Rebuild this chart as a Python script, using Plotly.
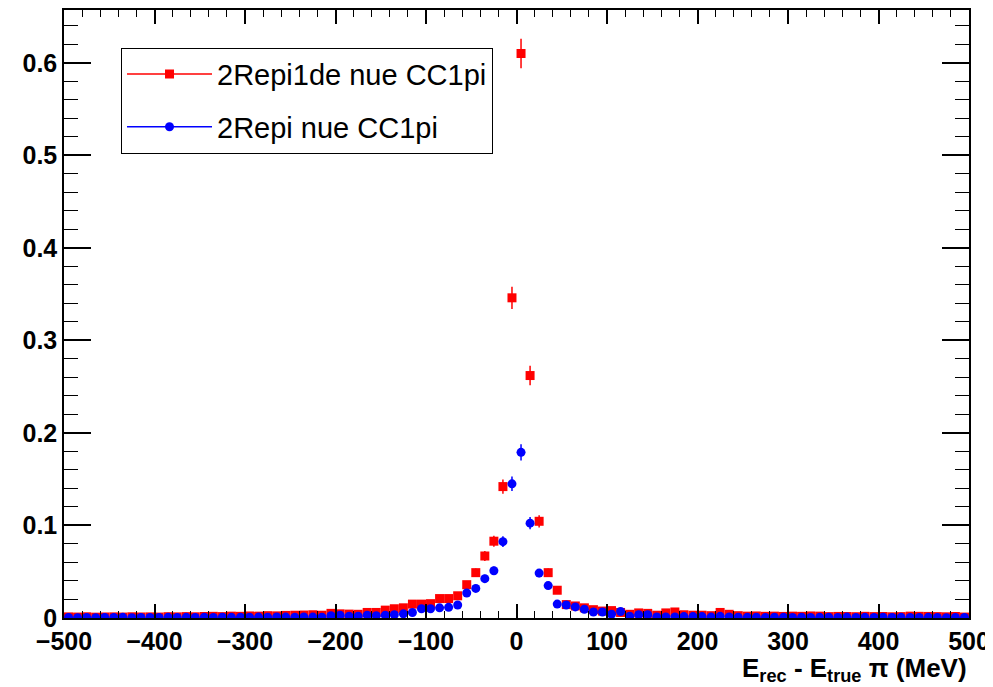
import numpy as np
import plotly.graph_objects as go

# histogram binning: 100 bins of 10 MeV from -500 to 500
bin_edges = np.arange(-500, 510, 10)
bin_centers = (bin_edges[:-1] + bin_edges[1:]) / 2

# 2Repi1de nue CC1pi (red squares)
red_vals = [
    0.0012, 0.0010, 0.0013, 0.0009, 0.0011, 0.0012, 0.0010, 0.0013, 0.0011, 0.0012,
    0.0010, 0.0014, 0.0012, 0.0015, 0.0013, 0.0016, 0.0018, 0.0015, 0.0020, 0.0018,
    0.0022, 0.0020, 0.0025, 0.0023, 0.0028, 0.0030, 0.0032, 0.0035, 0.0030, 0.0050,
    0.0045, 0.0042, 0.0040, 0.0060, 0.0060, 0.0085, 0.0100, 0.0110, 0.0150, 0.0150,
    0.0155, 0.0210, 0.0210, 0.0240, 0.0360, 0.0490, 0.0670, 0.0830, 0.1420, 0.3460,
    0.6100, 0.2620, 0.1045, 0.0490, 0.0300, 0.0145, 0.0130, 0.0110, 0.0090, 0.0075,
    0.0080, 0.0060, 0.0040, 0.0055, 0.0050, 0.0030, 0.0055, 0.0065, 0.0035, 0.0030,
    0.0030, 0.0025, 0.0060, 0.0040, 0.0025, 0.0020, 0.0022, 0.0018, 0.0020, 0.0017,
    0.0020, 0.0018, 0.0022, 0.0020, 0.0015, 0.0017, 0.0016, 0.0014, 0.0018, 0.0015,
    0.0016, 0.0013, 0.0015, 0.0020, 0.0018, 0.0017, 0.0015, 0.0013, 0.0016, 0.0010,
]
red_errs = [
    0.0007, 0.0007, 0.0007, 0.0006, 0.0007, 0.0007, 0.0007, 0.0007, 0.0007, 0.0007,
    0.0007, 0.0008, 0.0007, 0.0008, 0.0007, 0.0008, 0.0009, 0.0008, 0.0009, 0.0009,
    0.0010, 0.0009, 0.0010, 0.0010, 0.0011, 0.0011, 0.0012, 0.0012, 0.0011, 0.0015,
    0.0014, 0.0013, 0.0013, 0.0016, 0.0016, 0.0019, 0.0020, 0.0021, 0.0025, 0.0025,
    0.0026, 0.0030, 0.0030, 0.0032, 0.0039, 0.0045, 0.0053, 0.0059, 0.0077, 0.0120,
    0.0160, 0.0105, 0.0066, 0.0045, 0.0036, 0.0025, 0.0023, 0.0021, 0.0019, 0.0018,
    0.0018, 0.0016, 0.0013, 0.0015, 0.0014, 0.0011, 0.0015, 0.0016, 0.0012, 0.0011,
    0.0011, 0.0010, 0.0016, 0.0013, 0.0010, 0.0009, 0.0010, 0.0009, 0.0009, 0.0008,
    0.0009, 0.0009, 0.0010, 0.0009, 0.0008, 0.0008, 0.0008, 0.0008, 0.0009, 0.0008,
    0.0008, 0.0007, 0.0008, 0.0009, 0.0009, 0.0008, 0.0008, 0.0007, 0.0008, 0.0006,
]

# 2Repi nue CC1pi (blue circles)
blue_vals = [
    0.0005, 0.0004, 0.0006, 0.0003, 0.0006, 0.0005, 0.0007, 0.0004, 0.0006, 0.0005,
    0.0006, 0.0007, 0.0005, 0.0007, 0.0006, 0.0008, 0.0006, 0.0009, 0.0007, 0.0008,
    0.0009, 0.0010, 0.0008, 0.0011, 0.0010, 0.0009, 0.0012, 0.0010, 0.0008, 0.0025,
    0.0030, 0.0020, 0.0020, 0.0030, 0.0025, 0.0030, 0.0035, 0.0045, 0.0060, 0.0100,
    0.0100, 0.0110, 0.0115, 0.0140, 0.0270, 0.0320, 0.0425, 0.0510, 0.0825, 0.1450,
    0.1790, 0.1025, 0.0485, 0.0350, 0.0150, 0.0140, 0.0120, 0.0095, 0.0065, 0.0065,
    0.0040, 0.0070, 0.0020, 0.0035, 0.0035, 0.0012, 0.0012, 0.0012, 0.0015, 0.0015,
    0.0015, 0.0010, 0.0018, 0.0012, 0.0008, 0.0007, 0.0009, 0.0006, 0.0008, 0.0007,
    0.0006, 0.0008, 0.0005, 0.0007, 0.0009, 0.0006, 0.0010, 0.0005, 0.0007, 0.0006,
    0.0008, 0.0005, 0.0007, 0.0006, 0.0005, 0.0007, 0.0006, 0.0004, 0.0006, 0.0005,
]
blue_errs = [
    0.0005, 0.0004, 0.0005, 0.0004, 0.0005, 0.0005, 0.0005, 0.0004, 0.0005, 0.0005,
    0.0005, 0.0005, 0.0005, 0.0005, 0.0005, 0.0006, 0.0005, 0.0006, 0.0005, 0.0006,
    0.0006, 0.0006, 0.0006, 0.0007, 0.0006, 0.0006, 0.0007, 0.0006, 0.0006, 0.0010,
    0.0011, 0.0009, 0.0009, 0.0011, 0.0010, 0.0011, 0.0012, 0.0014, 0.0016, 0.0020,
    0.0020, 0.0021, 0.0022, 0.0024, 0.0034, 0.0037, 0.0042, 0.0046, 0.0059, 0.0078,
    0.0087, 0.0066, 0.0045, 0.0038, 0.0025, 0.0024, 0.0022, 0.0020, 0.0017, 0.0017,
    0.0013, 0.0017, 0.0009, 0.0012, 0.0012, 0.0007, 0.0007, 0.0007, 0.0008, 0.0008,
    0.0008, 0.0006, 0.0009, 0.0007, 0.0006, 0.0005, 0.0006, 0.0005, 0.0006, 0.0005,
    0.0005, 0.0006, 0.0005, 0.0005, 0.0006, 0.0005, 0.0006, 0.0005, 0.0005, 0.0005,
    0.0006, 0.0005, 0.0005, 0.0005, 0.0005, 0.0005, 0.0005, 0.0004, 0.0005, 0.0005,
]

series = [
    ("2Repi1de nue CC1pi", red_vals, red_errs, "#ff0000", "square"),
    ("2Repi nue CC1pi", blue_vals, blue_errs, "#0000ff", "circle"),
]

font_family = "Liberation Sans, Arial, Helvetica, sans-serif"

fig = go.Figure()
for i, (name, vals, errs, color, symbol) in enumerate(series):
    fig.add_trace(go.Scatter(
        x=bin_centers, y=vals,
        mode="markers",
        marker=dict(symbol=symbol, size=9, color=color, line=dict(width=0)),
        error_y=dict(type="data", array=errs, color=color, thickness=1.5, width=0),
        showlegend=False,
    ))
    # legend-only entry, drawn ROOT-style with line + marker
    fig.add_trace(go.Scatter(
        x=[None], y=[None],
        mode="lines+markers",
        name=name,
        legendgroup=f"g{i}",
        line=dict(color=color, width=1.5),
        marker=dict(symbol=symbol, size=9, color=color),
    ))

axis_common = dict(
    showline=True, linecolor="black", linewidth=1.5, mirror="ticks",
    ticks="inside", tickcolor="black", tickwidth=1.5,
    showgrid=False, zeroline=False,
    tickfont=dict(family=font_family, size=25, color="black", weight="bold"),
)

fig.update_xaxes(
    range=[-500, 500], dtick=100, tick0=0, ticklen=14,
    minor=dict(dtick=20, ticks="inside", ticklen=7, tickcolor="black", tickwidth=1.2),
    **axis_common,
)
fig.update_yaxes(
    range=[0, 0.657], dtick=0.1, tick0=0, ticklen=27,
    minor=dict(dtick=0.02, ticks="inside", ticklen=14, tickcolor="black", tickwidth=1.2),
    **axis_common,
)

fig.add_annotation(
    text="E<sub>rec</sub> - E<sub>true</sub> π (MeV)",
    xref="paper", yref="paper", x=1.0, y=0.0,
    xanchor="right", yanchor="top", yshift=-33, showarrow=False,
    font=dict(family=font_family, size=26, color="black", weight="bold"),
)

# the page body adds an 8 px offset, so margins are trimmed to land the frame
# on the reference position (x 64..969, y 7..617)
fig.update_layout(
    width=993, height=687,
    margin=dict(l=56, r=32, t=0, b=77),
    plot_bgcolor="white", paper_bgcolor="white",
    legend=dict(
        x=0.063, y=0.938, xanchor="left", yanchor="top",
        bgcolor="white", bordercolor="black", borderwidth=1,
        font=dict(family=font_family, size=29, color="black"),
        itemwidth=85, tracegroupgap=12,
    ),
)

fig.write_html("out.html")
